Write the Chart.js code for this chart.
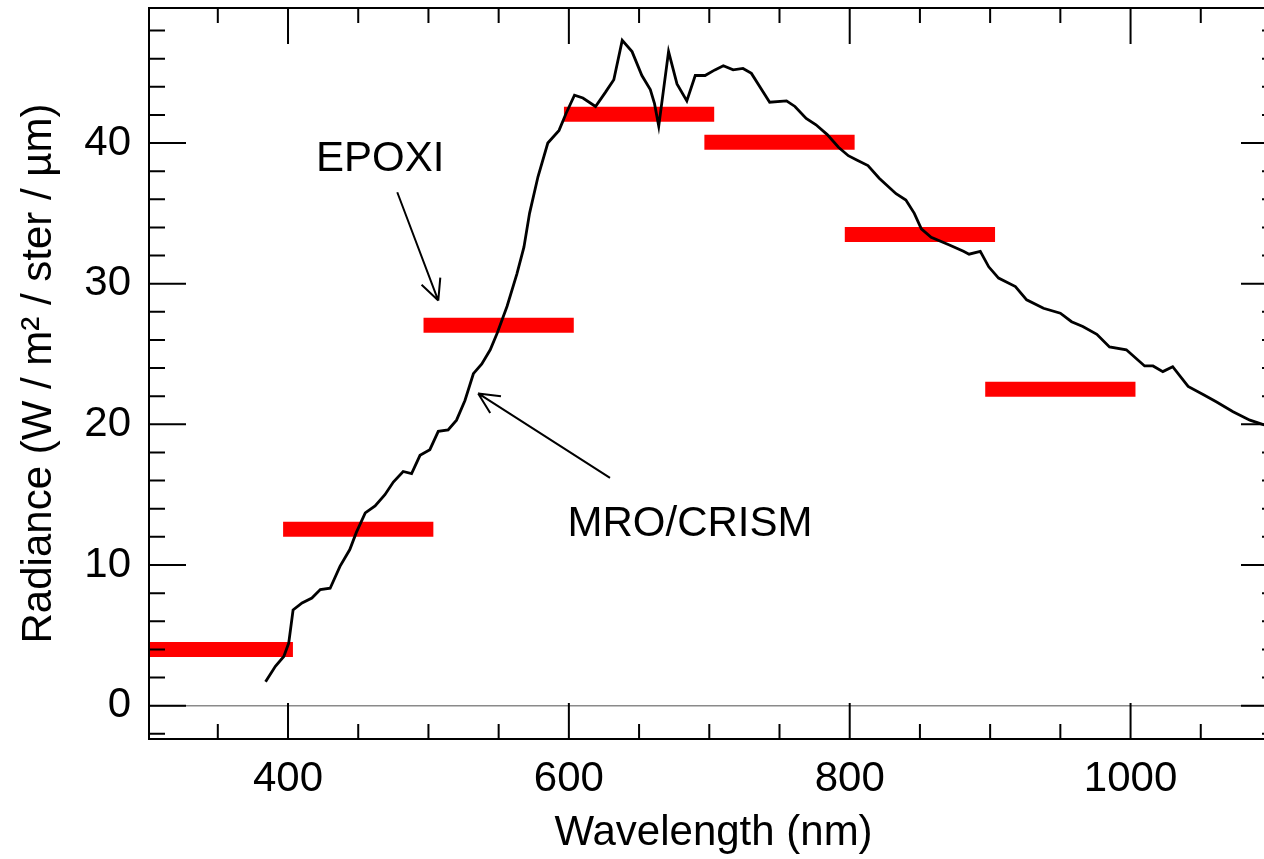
<!DOCTYPE html>
<html>
<head>
<meta charset="utf-8">
<title>Radiance vs wavelength</title>
<script src="https://cdn.jsdelivr.net/npm/chart.js@4.4.1/dist/chart.umd.min.js"></script>
<style>
    html, body { margin: 0; padding: 0; background: #fff; overflow: hidden; }
    #wrap { width: 1300px; height: 859px; }
</style>
</head>
<body>
<div id="wrap"><canvas id="radianceChart" width="1300" height="859"></canvas></div>
<script>
// MRO/CRISM spectrum (nm, W / m2 / ster / um)
const wavelength = [384, 391, 397, 400.5, 403.6, 410, 417, 423, 430, 437, 444, 448.6, 455, 462, 469, 475,
    482, 488, 494, 501, 507, 514, 520, 526, 532, 538, 544, 549, 556, 563, 568, 572, 578, 585, 593, 598,
    604, 610, 619, 626, 632, 638, 645, 652, 658, 661, 664, 671, 677, 684, 690, 697, 704, 710, 717, 724,
    730, 736, 743, 755, 761, 769, 776, 784, 792, 799, 805, 813, 821, 833, 840, 846, 851, 858, 871, 881,
    885, 893, 899, 906, 918, 926, 938, 950, 958, 966, 976, 985, 997, 1010, 1016, 1023, 1030, 1041, 1052,
    1061, 1073, 1085, 1094, 1105];
const radiance = [1.7, 2.8, 3.5, 4.45, 6.8, 7.3, 7.65, 8.25, 8.35, 9.9, 11.1, 12.3, 13.7, 14.2, 15.0, 15.9,
    16.65, 16.5, 17.8, 18.2, 19.5, 19.6, 20.3, 21.7, 23.6, 24.3, 25.3, 26.5, 28.4, 30.7, 32.6, 35.0, 37.6, 40.0, 40.9, 42.1,
    43.4, 43.2, 42.6, 43.6, 44.5, 47.3, 46.5, 44.8, 43.8, 42.8, 41.2, 46.5, 44.2, 43.0, 44.8, 44.8, 45.2, 45.5, 45.2, 45.3,
    44.95, 44.0, 42.9, 43.0, 42.6, 41.75, 41.3, 40.6, 39.7, 39.1, 38.8, 38.4, 37.5, 36.4, 35.95, 35.0, 33.9, 33.3, 32.75, 32.3,
    32.1, 32.3, 31.2, 30.4, 29.8, 28.85, 28.25, 27.9, 27.3, 26.95, 26.4, 25.5, 25.3, 24.15, 24.15, 23.75, 24.1, 22.7, 22.1,
    21.6, 20.9, 20.3, 20.0, 19.7];

// EPOXI bands
const epoxiStart = [296.5, 396.5, 496.5, 596.5, 696.5, 796.5, 896.5];
const epoxiEnd = [403.5, 503.5, 603.5, 703.5, 803.5, 903.5, 1003.5];
const epoxiRadiance = [4.0, 12.55, 27.05, 42.05, 40.05, 33.5, 22.5];

const xTicks = [400, 600, 800, 1000];
const yTicks = [0, 10, 20, 30, 40];

const FONT = 'Liberation Sans, Arial, Helvetica, sans-serif';

// arrows + labels, in data units
const notes = [
    { text: 'EPOXI', lx: 465.7, ly: 38.8, tail: [477.8, 36.5], tip: [507, 28.8] },
    { text: 'MRO/CRISM', lx: 686.3, ly: 12.86, tail: [629.3, 16.2], tip: [535.4, 22.2] }
];

const datasets = [{
    data: wavelength.map((w, i) => ({ x: w, y: radiance[i] })),
    borderColor: '#000',
    borderWidth: 2.8,
    pointRadius: 0,
    tension: 0
}];
epoxiRadiance.forEach((r, i) => {
    datasets.push({
        data: [{ x: epoxiStart[i], y: r }, { x: epoxiEnd[i], y: r }],
        borderColor: '#ff0000',
        borderWidth: 15,
        borderCapStyle: 'butt',
        pointRadius: 0
    });
});

// box, inward ticks, zero line and annotations
const framePlugin = {
    id: 'framePlugin',
    beforeDatasetsDraw(chart) {
        const { ctx, chartArea: a, scales: { y } } = chart;
        const py = y.getPixelForValue(0);
        ctx.save();
        ctx.strokeStyle = '#8a8a8a';
        ctx.lineWidth = 1.5;
        ctx.beginPath();
        ctx.moveTo(a.left, py);
        ctx.lineTo(a.right, py);
        ctx.stroke();
        ctx.restore();
    },
    afterDatasetsDraw(chart) {
        const { ctx, chartArea: a, scales: { x, y } } = chart;
        ctx.save();
        ctx.strokeStyle = '#000';
        ctx.lineWidth = 2;
        ctx.beginPath();
        for (let v = 350; v <= 1100; v += 50) {
            const px = x.getPixelForValue(v);
            const len = xTicks.includes(v) ? 36 : 15;
            ctx.moveTo(px, a.bottom); ctx.lineTo(px, a.bottom - len);
            ctx.moveTo(px, a.top); ctx.lineTo(px, a.top + len);
        }
        for (let v = -2; v <= 48; v += 2) {
            const py = y.getPixelForValue(v);
            const len = yTicks.includes(v) ? 37 : 16;
            ctx.moveTo(a.left, py); ctx.lineTo(a.left + len, py);
            ctx.moveTo(a.right, py); ctx.lineTo(a.right - len, py);
        }
        ctx.stroke();
        ctx.strokeRect(a.left, a.top, a.right - a.left, a.bottom - a.top);

        ctx.fillStyle = '#000';
        ctx.font = '42px ' + FONT;
        ctx.textAlign = 'center';
        ctx.textBaseline = 'middle';
        ctx.lineWidth = 2;
        notes.forEach(n => {
            ctx.fillText(n.text, x.getPixelForValue(n.lx), y.getPixelForValue(n.ly));
            const x0 = x.getPixelForValue(n.tail[0]), y0 = y.getPixelForValue(n.tail[1]);
            const x1 = x.getPixelForValue(n.tip[0]), y1 = y.getPixelForValue(n.tip[1]);
            const ang = Math.atan2(y0 - y1, x0 - x1);
            ctx.beginPath();
            ctx.moveTo(x0, y0); ctx.lineTo(x1, y1);
            [-0.45, 0.45].forEach(d => {
                ctx.moveTo(x1, y1);
                ctx.lineTo(x1 + 23 * Math.cos(ang + d), y1 + 23 * Math.sin(ang + d));
            });
            ctx.stroke();
        });
        ctx.restore();
    }
};

new Chart(document.getElementById('radianceChart'), {
    type: 'line',
    data: { datasets },
    options: {
        responsive: false,
        animation: false,
        layout: { padding: { top: 8, right: 22, left: 0, bottom: 0 } },
        plugins: { legend: { display: false }, tooltip: { enabled: false } },
        scales: {
            x: {
                type: 'linear',
                min: 301,
                max: 1105,
                afterFit: s => { s.height = 120; s.paddingLeft = 0; s.paddingRight = 0; },
                afterBuildTicks: s => { s.ticks = xTicks.map(v => ({ value: v })); },
                grid: { display: false, drawTicks: false },
                border: { display: false },
                ticks: {
                    color: '#000',
                    padding: 15,
                    font: { family: FONT, size: 42 },
                    callback: v => String(v)
                },
                title: {
                    display: true,
                    text: 'Wavelength (nm)',
                    color: '#000',
                    font: { family: FONT, size: 42 },
                    padding: { top: 0, bottom: 0 }
                }
            },
            y: {
                min: -2.37,
                max: 49.6,
                afterFit: s => { s.width = 149; s.paddingTop = 0; s.paddingBottom = 0; },
                afterBuildTicks: s => { s.ticks = yTicks.map(v => ({ value: v })); },
                grid: { display: false, drawTicks: false },
                border: { display: false },
                ticks: { color: '#000', padding: 18, font: { family: FONT, size: 42 } },
                title: {
                    display: true,
                    text: 'Radiance (W / m² / ster / µm)',
                    color: '#000',
                    font: { family: FONT, size: 42 },
                    padding: { top: 14, bottom: 0 }
                }
            }
        }
    },
    plugins: [framePlugin]
});
</script>
</body>
</html>
